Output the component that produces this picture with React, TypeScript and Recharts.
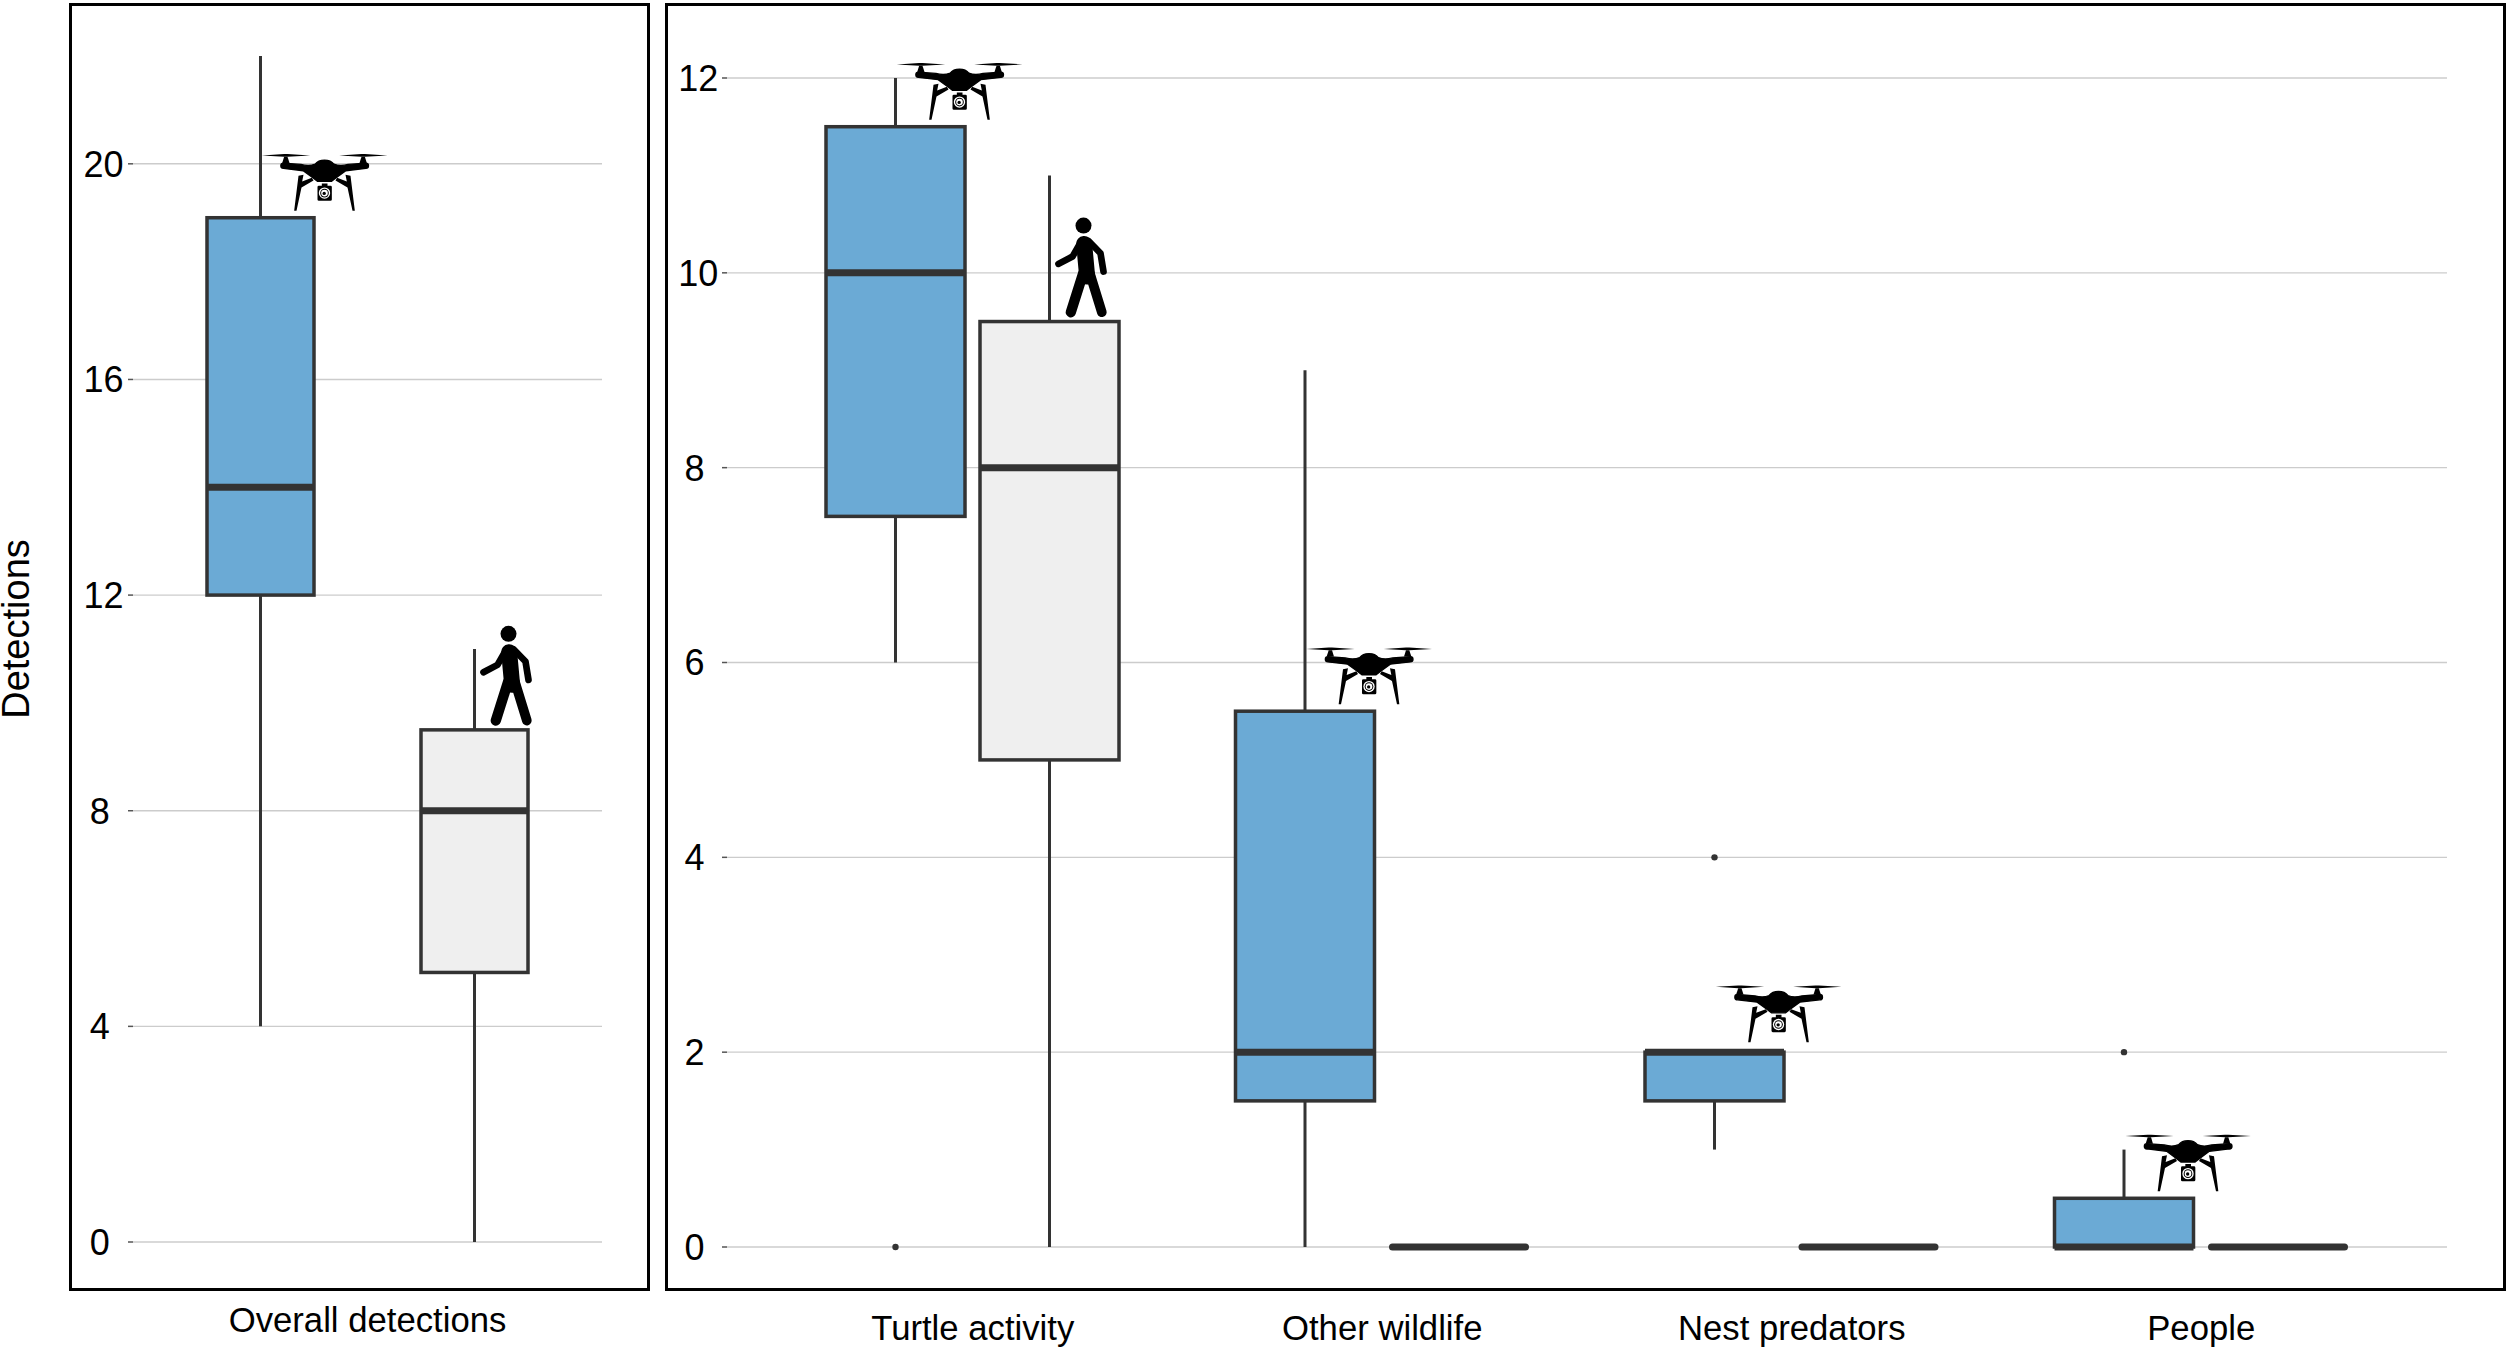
import React from 'react';
import { BarChart, Bar, XAxis, YAxis, CartesianGrid, Label } from 'recharts';

const FONT = '"Liberation Sans", Arial, sans-serif';
const BLUE = '#6baad5';
const GREY = '#efefef';
const INK = '#333333';

// Overall panel
const overallCategories = ['Overall detections'];
const overallTicks = [0, 4, 8, 12, 16, 20];
const overallDroneLow = [4];
const overallDroneQ1 = [12];
const overallDroneMedian = [14];
const overallDroneQ3 = [19];
const overallDroneHigh = [22];
const overallPersonLow = [0];
const overallPersonQ1 = [5];
const overallPersonMedian = [8];
const overallPersonQ3 = [9.5];
const overallPersonHigh = [11];

// Detection type panel
const typeCategories = ['Turtle activity', 'Other wildlife', 'Nest predators', 'People'];
const typeTicks = [0, 2, 4, 6, 8, 10, 12];
const droneLow = [6, 0, 1, 0];
const droneQ1 = [7.5, 1.5, 1.5, 0];
const droneMedian = [10, 2, 2, 0];
const droneQ3 = [11.5, 5.5, 2, 0.5];
const droneHigh = [12, 9, 2, 1];
const droneOutlier = [0, null, 4, 2];
const personLow = [0, 0, 0, 0];
const personQ1 = [5, 0, 0, 0];
const personMedian = [8, 0, 0, 0];
const personQ3 = [9.5, 0, 0, 0];
const personHigh = [11, 0, 0, 0];

type Box = { low: number; q1: number; med: number; q3: number; high: number; out: number | null };
type Row = { name: string; drone: Box; person: Box };

const overallData: Row[] = overallCategories.map((name, i) => ({
  name,
  drone: { low: overallDroneLow[i], q1: overallDroneQ1[i], med: overallDroneMedian[i], q3: overallDroneQ3[i], high: overallDroneHigh[i], out: null },
  person: { low: overallPersonLow[i], q1: overallPersonQ1[i], med: overallPersonMedian[i], q3: overallPersonQ3[i], high: overallPersonHigh[i], out: null },
}));

const typeData: Row[] = typeCategories.map((name, i) => ({
  name,
  drone: { low: droneLow[i], q1: droneQ1[i], med: droneMedian[i], q3: droneQ3[i], high: droneHigh[i], out: droneOutlier[i] },
  person: { low: personLow[i], q1: personQ1[i], med: personMedian[i], q3: personQ3[i], high: personHigh[i], out: null },
}));

const DroneIcon = ({ x, y }: { x: number; y: number }) => (
  <g transform={`translate(${x} ${y}) scale(0.3333) translate(-241 -240)`} fill="#000">
    <path d="M53 74 L120 70 L130 70 L198 74 L130 78 L120 78 Z" />
    <path d="M285 74 L352 70 L362 70 L430 74 L362 78 L352 78 Z" />
    <path d="M120 78 L130 78 L136 97 L114 97 Z" />
    <path d="M352 78 L362 78 L368 97 L346 97 Z" />
    <path stroke="#000" strokeWidth={4} d="M110 105 Q110 97 118 97 L170 101 Q195 108 213 100 Q222 88 241 88 Q260 88 269 100 Q287 108 312 101 L365 97 Q373 97 373 105 Q373 113 365 113 L305 120 L275 142 L262 152 L220 152 L207 142 L177 120 L118 113 Q110 113 110 105 Z" />
    <path d="M163 135 L178 132 L174 152 L203 141 L208 149 L172 170 L157 240 L150 240 Z" />
    <path d="M319 135 L304 132 L308 152 L279 141 L274 149 L310 170 L325 240 L332 240 Z" />
    <path d="M233 158 L250 158 L250 165 L259 165 Q263 165 263 169 L263 206 Q263 210 259 210 L224 210 Q220 210 220 206 L220 169 Q220 165 224 165 L233 165 Z" />
    <circle cx={241} cy={187} r={17} fill="#fff" />
    <circle cx={241} cy={187} r={13} fill="#000" />
    <circle cx={241} cy={187} r={10} fill="#fff" />
    <circle cx={240} cy={188} r={5} fill="#000" />
  </g>
);

const PersonIcon = ({ x, y }: { x: number; y: number }) => (
  <g transform={`translate(${x} ${y}) scale(0.3333) translate(-525 -830)`} fill="none" stroke="#000" strokeLinecap="round" strokeLinejoin="round">
    <circle cx={609} cy={557} r={24} fill="#000" stroke="none" />
    <path d="M534 672 L576 650 L600 608" strokeWidth={20} />
    <path d="M625 604 L660 640 L669 695" strokeWidth={20} />
    <path d="M611 612 L620 710" strokeWidth={48} />
    <path d="M608 700 L571 817" strokeWidth={31} />
    <path d="M628 700 L664 817" strokeWidth={29} />
  </g>
);

// y/height of the bar span low..high, everything else is placed inside that span
const makeBoxShape = (key: 'drone' | 'person', fill: string) => (props: any) => {
  const { x, y, width, height, payload } = props;
  const b: Box = payload[key];
  const unit = b.high > b.low ? height / (b.high - b.low) : 0;
  const at = (v: number) => y + (b.high - v) * unit;
  const cx = x + width / 2;
  const top = at(b.q3);
  const flat = b.q1 === b.q3;
  return (
    <g>
      {b.high > b.low && <line x1={cx} x2={cx} y1={at(b.high)} y2={at(b.low)} stroke={INK} strokeWidth={3} />}
      {b.out !== null && <circle cx={cx} cy={at(b.out)} r={3.2} fill={INK} />}
      {!flat && <rect x={x} y={top} width={width} height={at(b.q1) - top} fill={fill} stroke={INK} strokeWidth={3.5} />}
      <line x1={x + (flat ? 3 : 0)} x2={x + width - (flat ? 3 : 0)} y1={at(b.med)} y2={at(b.med)} stroke={INK} strokeWidth={7} strokeLinecap={flat ? 'round' : 'butt'} />
      {key === 'drone' && <DroneIcon x={cx + 64} y={top - (b.med === b.q3 ? 10 : 7)} />}
      {key === 'person' && !flat && <PersonIcon x={cx + 6} y={top - 5} />}
    </g>
  );
};

const makeTick = (center: number) => (props: any) => {
  const label = String(props.payload.value);
  return (
    <text x={center + (label.length > 1 ? 3.8 : 0)} y={props.y} dy="0.36em" textAnchor="middle" fontSize={36} fontFamily={FONT} fill="#000">
      {label}
    </text>
  );
};

const Panel = ({ left, top, width, height }: { left: number; top: number; width: number; height: number }) => (
  <div style={{ position: 'absolute', left, top, width, height, boxSizing: 'border-box', border: '3px solid #000' }} />
);

export default function App() {
  return (
    <div style={{ position: 'absolute', left: 0, top: 0, width: 2506, height: 1351, overflow: 'hidden', background: '#fff' }}>
      <Panel left={69} top={3} width={581} height={1288} />
      <Panel left={665} top={3} width={1841} height={1288} />

      <div style={{ position: 'absolute', left: 0, top: 0 }}>
        <BarChart width={660} height={1351} data={overallData} margin={{ top: 56, right: 58, left: 0, bottom: 9 }} barSize={107} barGap={107}>
          <CartesianGrid horizontal vertical={false} horizontalValues={overallTicks} stroke="#cccccc" strokeWidth={1.4} />
          <XAxis dataKey="name" height={100} axisLine={false} tickLine={false} tickSize={0} tickMargin={65} tick={{ fontSize: 34.7, fontFamily: FONT, fill: '#000' }} />
          <YAxis width={133} domain={[0, 22]} ticks={overallTicks} axisLine={false} tickSize={5} tickLine={{ stroke: '#555', strokeWidth: 1.5 }} tick={makeTick(99.7)} interval={0}>
            <Label
              content={() => (
                <text transform="translate(29 629) rotate(-90)" textAnchor="middle" fontSize={38} fontFamily={FONT} fill="#000">
                  Detections
                </text>
              )}
            />
          </YAxis>
          <Bar dataKey={(d: Row) => [d.drone.low, d.drone.high]} shape={makeBoxShape('drone', BLUE)} isAnimationActive={false} />
          <Bar dataKey={(d: Row) => [d.person.low, d.person.high]} shape={makeBoxShape('person', GREY)} isAnimationActive={false} />
        </BarChart>
      </div>

      <div style={{ position: 'absolute', left: 660, top: 0 }}>
        <BarChart width={1846} height={1351} data={typeData} margin={{ top: 78, right: 59, left: 0, bottom: 4 }} barSize={139} barGap={15}>
          <CartesianGrid horizontal vertical={false} horizontalValues={typeTicks} stroke="#cccccc" strokeWidth={1.4} />
          <XAxis dataKey="name" height={100} padding={{ left: 41, right: 41 }} axisLine={false} tickLine={false} tickSize={0} tickMargin={68} interval={0} tick={{ fontSize: 34.7, fontFamily: FONT, fill: '#000' }} />
          <YAxis width={67} domain={[0, 12]} ticks={typeTicks} axisLine={false} tickSize={5} tickLine={{ stroke: '#555', strokeWidth: 1.5 }} tick={makeTick(34.5)} interval={0} />
          <Bar dataKey={(d: Row) => [d.drone.low, d.drone.high]} shape={makeBoxShape('drone', BLUE)} isAnimationActive={false} />
          <Bar dataKey={(d: Row) => [d.person.low, d.person.high]} shape={makeBoxShape('person', GREY)} isAnimationActive={false} />
        </BarChart>
      </div>
    </div>
  );
}
